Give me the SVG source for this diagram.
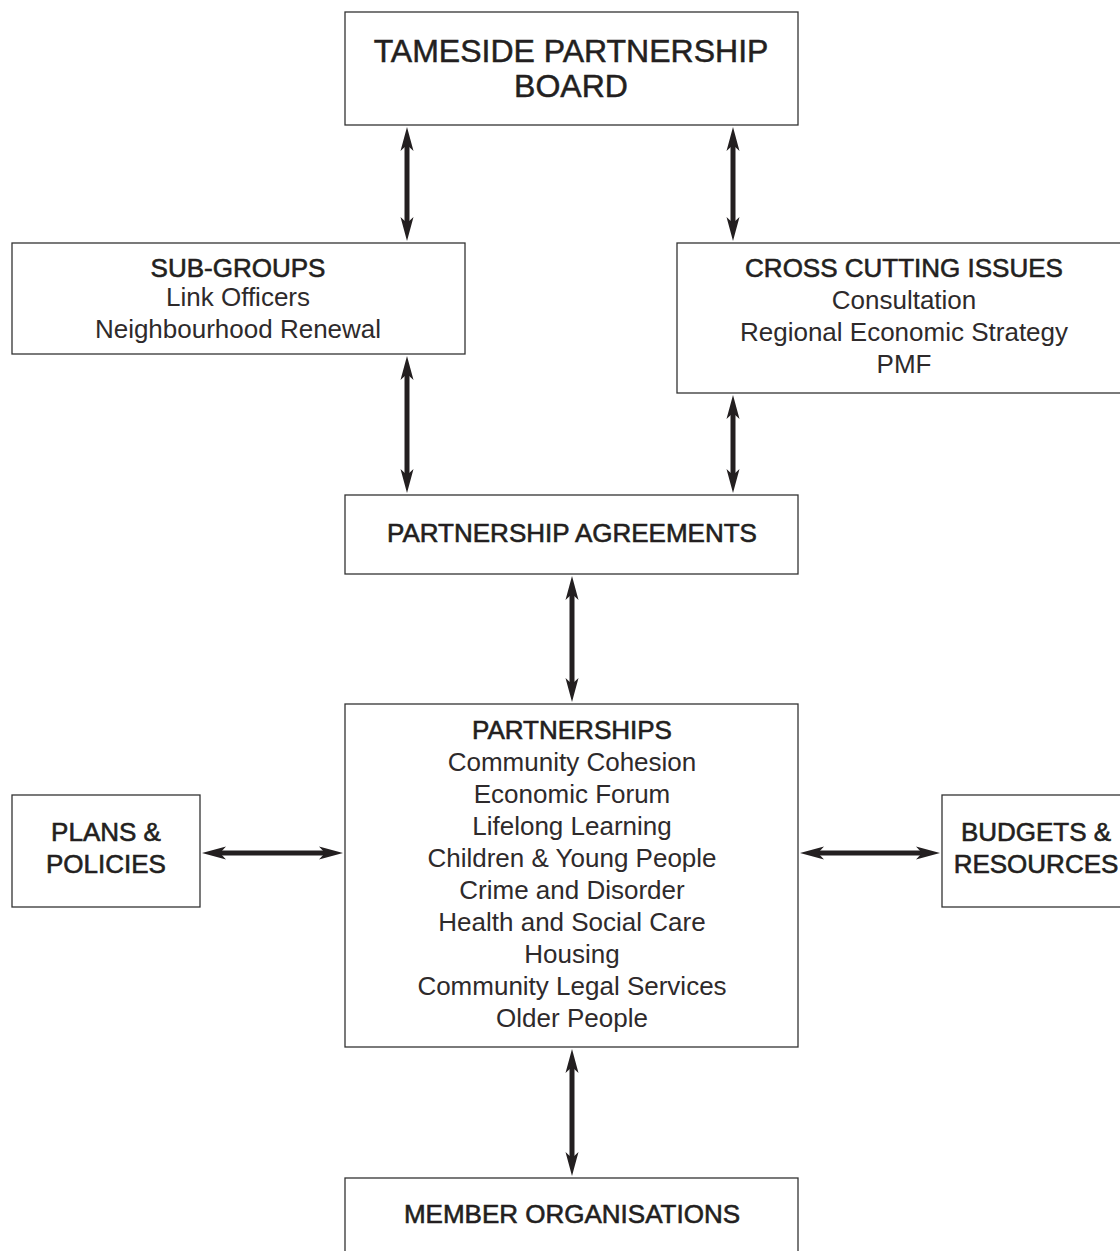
<svg xmlns="http://www.w3.org/2000/svg" width="1120" height="1251" viewBox="0 0 1120 1251">
<style>
.box{fill:#fff;stroke:#333;stroke-width:1.3}
.h{font-family:"Liberation Sans",Arial,sans-serif;font-size:26px;fill:#231f20;stroke:#231f20;stroke-width:0.6;text-anchor:middle}
.t{font-family:"Liberation Sans",Arial,sans-serif;font-size:26px;fill:#2e2a2b;text-anchor:middle}
.title{font-size:32px;stroke-width:0.5}
.c{stroke:#231f20;stroke-width:5;fill:none;marker-start:url(#ah);marker-end:url(#ah)}
</style>
<defs>
<marker id="ah" markerUnits="userSpaceOnUse" markerWidth="26" markerHeight="16" viewBox="0 0 26 16" refX="11" refY="8" orient="auto-start-reverse">
<path d="M0,1.5 L24,8 L0,14.5 L6,8 Z" fill="#231f20"/>
</marker>
</defs>
<rect width="1120" height="1251" fill="#fff"/>
<g id="connectors">
<line class="c" x1="407" y1="140" x2="407" y2="228"/>
<line class="c" x1="733" y1="140" x2="733" y2="228"/>
<line class="c" x1="407" y1="369" x2="407" y2="480"/>
<line class="c" x1="733" y1="408" x2="733" y2="480"/>
<line class="c" x1="572" y1="589" x2="572" y2="689"/>
<line class="c" x1="572" y1="1062" x2="572" y2="1163"/>
<line class="c" x1="215" y1="853" x2="330" y2="853"/>
<line class="c" x1="813" y1="853" x2="927" y2="853"/>
</g>
<g id="board">
<rect class="box" x="345" y="12" width="453" height="113"/>
<text class="h title" x="571" y="62">TAMESIDE PARTNERSHIP</text>
<text class="h title" x="571" y="97">BOARD</text>
</g>
<g id="subgroups">
<rect class="box" x="12" y="243" width="453" height="111"/>
<text class="h" x="238" y="277">SUB-GROUPS</text>
<text class="t" x="238" y="306">Link Officers</text>
<text class="t" x="238" y="338">Neighbourhood Renewal</text>
</g>
<g id="crosscutting">
<rect class="box" x="677" y="243" width="460" height="150"/>
<text class="h" x="904" y="277">CROSS CUTTING ISSUES</text>
<text class="t" x="904" y="309">Consultation</text>
<text class="t" x="904" y="341">Regional Economic Strategy</text>
<text class="t" x="904" y="373">PMF</text>
</g>
<g id="agreements">
<rect class="box" x="345" y="495" width="453" height="79"/>
<text class="h" x="572" y="542">PARTNERSHIP AGREEMENTS</text>
</g>
<g id="partnerships">
<rect class="box" x="345" y="704" width="453" height="343"/>
<text class="h" x="572" y="739">PARTNERSHIPS</text>
<text class="t" x="572" y="771">Community Cohesion</text>
<text class="t" x="572" y="803">Economic Forum</text>
<text class="t" x="572" y="835">Lifelong Learning</text>
<text class="t" x="572" y="867">Children &amp; Young People</text>
<text class="t" x="572" y="899">Crime and Disorder</text>
<text class="t" x="572" y="931">Health and Social Care</text>
<text class="t" x="572" y="963">Housing</text>
<text class="t" x="572" y="995">Community Legal Services</text>
<text class="t" x="572" y="1027">Older People</text>
</g>
<g id="plans">
<rect class="box" x="12" y="795" width="188" height="112"/>
<text class="h" x="106" y="841">PLANS &amp;</text>
<text class="h" x="106" y="873">POLICIES</text>
</g>
<g id="budgets">
<rect class="box" x="942" y="795" width="190" height="112"/>
<text class="h" x="1036" y="841">BUDGETS &amp;</text>
<text class="h" x="1036" y="873">RESOURCES</text>
</g>
<g id="members">
<rect class="box" x="345" y="1178" width="453" height="90"/>
<text class="h" x="572" y="1223">MEMBER ORGANISATIONS</text>
</g>
</svg>
